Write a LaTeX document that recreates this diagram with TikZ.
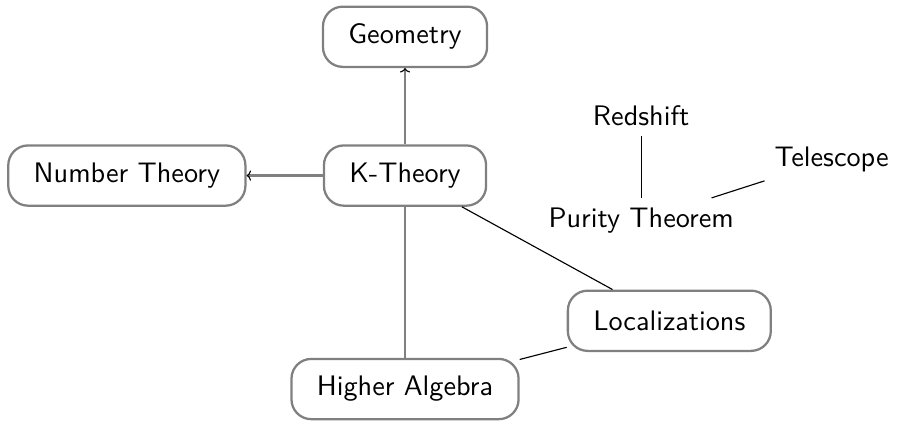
\documentclass[tikz,border=0pt]{standalone}
\usepackage{tikz}
\usetikzlibrary{positioning,arrows.meta}

\begin{document}
\begin{tikzpicture}[
    node distance=0.95cm and 0.95cm,
    font=\sffamily,
    topic/.style={rectangle, rounded corners=7pt, draw=gray, thick, minimum height=0.75cm, inner xsep=9pt, text centered},
    idea/.style={inner sep=3.33pt},
    arrow/.style={-{To[black, line width=0.4pt, length=1.6pt, width=3.6pt]}, gray, thick},
    link/.style={gray, thick},
    thinlink/.style={black}
]

    % Main topics
    \node[topic] (ktheory) {K-Theory};
    \node[topic, above=of ktheory] (geometry) {Geometry};
    \node[topic, left=of ktheory] (numtheory) {Number Theory};
    \node[topic, below=1.88cm of ktheory] (higheralg) {Higher Algebra};
    \node[topic, below right=1.03cm and 0.99cm of ktheory] (localizations) {Localizations};

    % Purity group (no boxes)
    \node[idea] at (2.94,-0.56) (purity) {Purity Theorem};
    \node[idea, above=0.77cm of purity] (redshift) {Redshift};
    \node[idea, above right=0.2cm and 0.26cm of purity] (telescope) {Telescope};

    % K-Theory to neighbours
    \draw[arrow] (ktheory) -- (geometry);
    \draw[arrow] (ktheory) -- (numtheory);
    \draw[link] (ktheory) -- (higheralg);
    \draw[thinlink] (ktheory) -- (localizations);
    \draw[thinlink] (localizations) -- (higheralg);

    % Purity connections
    \draw[thinlink] (purity) -- (redshift);
    \draw[thinlink] (purity) -- (telescope);

    \useasboundingbox (-5.043,-3.006) rectangle (6.112,2.186);
\end{tikzpicture}
\end{document}
